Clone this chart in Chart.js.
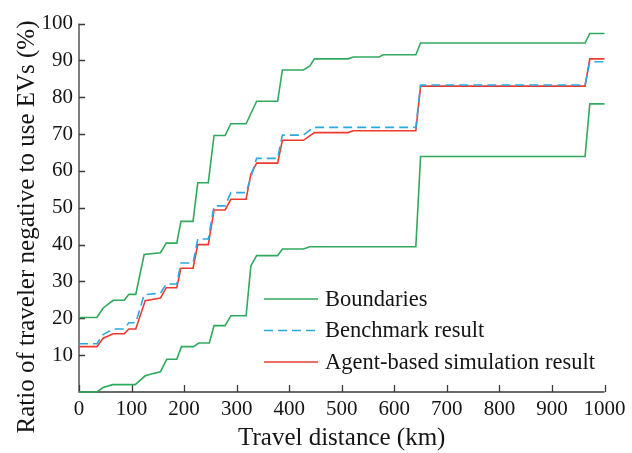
<!DOCTYPE html>
<html>
<head>
<meta charset="utf-8">
<script src="https://cdn.jsdelivr.net/npm/chart.js@4/dist/chart.umd.min.js"></script>
<style>
  html, body { margin: 0; padding: 0; background: #fff; }
  #wrap { width: 632px; height: 453px; position: relative; }
</style>
</head>
<body>
<div id="wrap"><canvas id="c" width="632" height="453"></canvas></div>
<script>
// ---- Data ----
const xTicks = [0, 100, 200, 300, 400, 500, 600, 700, 800, 900, 1000];
const yTicks = [10, 20, 30, 40, 50, 60, 70, 80, 90, 100];

const upperDist = [0, 34, 46, 65, 86, 95, 108, 124, 155, 166, 186, 194, 217, 226, 246, 257, 278, 289, 318, 338, 378, 387, 427, 439, 448, 512, 522, 571, 579, 641, 650, 963, 972, 1000];
const upperVal  = [20.2, 20.2, 22.8, 24.9, 24.9, 26.5, 26.5, 37.3, 37.8, 40.4, 40.4, 46.3, 46.3, 56.8, 56.8, 69.6, 69.6, 72.8, 72.8, 78.9, 78.9, 87.4, 87.4, 88.4, 90.4, 90.4, 90.9, 90.9, 91.5, 91.5, 94.7, 94.7, 97.3, 97.3];

const lowerDist = [0, 34, 46, 64, 107, 126, 138, 155, 167, 186, 195, 218, 228, 248, 257, 278, 289, 318, 327, 338, 378, 387, 427, 439, 641, 650, 963, 972, 1000];
const lowerVal  = [0, 0, 1.2, 2, 2, 4.4, 4.9, 5.5, 8.9, 8.9, 12.3, 12.3, 13.3, 13.3, 18, 18, 20.7, 20.7, 34.2, 37, 37, 38.8, 38.8, 39.4, 39.4, 63.9, 63.9, 78.2, 78.2];

const benchDist = [0, 34, 46, 65, 86, 95, 108, 124, 155, 166, 186, 194, 217, 226, 246, 257, 278, 289, 318, 338, 378, 387, 427, 446, 641, 650, 963, 972, 1000];
const benchVal  = [13.1, 13.1, 15.6, 17.1, 17.1, 18.8, 18.8, 26.4, 26.8, 29.3, 29.3, 35.0, 35.0, 41.5, 41.5, 50.5, 50.5, 54.1, 54.1, 63.4, 63.4, 69.7, 69.7, 71.8, 71.8, 83.3, 83.3, 89.6, 89.6];

const agentDist = [0, 34, 46, 65, 86, 95, 108, 126, 155, 166, 186, 194, 217, 226, 246, 257, 278, 289, 318, 327, 338, 378, 387, 427, 448, 512, 522, 641, 650, 963, 972, 1000];
const agentVal  = [12.3, 12.3, 14.6, 15.8, 15.8, 17.1, 17.1, 24.8, 25.5, 28.3, 28.3, 33.6, 33.6, 40.0, 40.0, 49.4, 49.4, 52.3, 52.3, 59.1, 62.1, 62.1, 68.3, 68.3, 70.4, 70.4, 70.9, 70.9, 83.0, 83.0, 90.4, 90.4];

const legendLabels = ['Boundaries', 'Benchmark result', 'Agent-based simulation result'];
const xTitle = 'Travel distance (km)';
const yTitle = 'Ratio of traveler negative to use EVs (%)';

// ---- Styles ----
const GREEN = '#2fa95c';
const BLUE = '#2aa9e0';
const RED = '#ec3b2e';
const AXIS = '#3a3a3a';
const TEXT = '#151515';
const FONT = "'Liberation Serif', 'Times New Roman', serif";

const pts = (xs, ys) => xs.map((x, i) => ({ x: x, y: ys[i] }));

const axesAndLegend = {
  id: 'axesAndLegend',
  beforeDatasetsDraw(chart) {
    const { ctx, chartArea: a, scales } = chart;
    ctx.save();
    ctx.strokeStyle = AXIS;
    ctx.lineWidth = 1.3;
    ctx.beginPath();
    ctx.moveTo(a.left, a.top);
    ctx.lineTo(a.left, a.bottom);
    ctx.lineTo(a.right, a.bottom);
    xTicks.forEach(v => {
      const px = Math.round(scales.x.getPixelForValue(v)) + 0.5;
      ctx.moveTo(px, a.bottom);
      ctx.lineTo(px, a.bottom - 7);
    });
    yTicks.forEach(v => {
      const py = Math.round(scales.y.getPixelForValue(v)) + 0.5;
      ctx.moveTo(a.left, py);
      ctx.lineTo(a.left + 6, py);
    });
    ctx.stroke();

    // y title
    ctx.fillStyle = TEXT;
    ctx.font = "25px " + FONT;
    ctx.textAlign = 'center';
    ctx.textBaseline = 'middle';
    ctx.translate(27, 227);
    ctx.rotate(-Math.PI / 2);
    ctx.fillText(yTitle, 0, 0);
    ctx.restore();
  },
  afterDraw(chart) {
    const { ctx, chartArea: a } = chart;
    ctx.save();
    const items = [
      { c: GREEN, dash: [] },
      { c: BLUE, dash: [9, 5] },
      { c: RED, dash: [] }
    ];
    const lx0 = a.left + 185, lx1 = a.left + 239, tx = a.left + 246;
    const ys = [a.top + 275.5, a.top + 307, a.top + 338.5];
    ctx.font = "22.5px " + FONT;
    ctx.textBaseline = 'middle';
    ctx.textAlign = 'left';
    ctx.fillStyle = TEXT;
    items.forEach((it, i) => {
      ctx.beginPath();
      ctx.setLineDash(it.dash);
      ctx.strokeStyle = it.c;
      ctx.lineWidth = 1.5;
      ctx.moveTo(lx0, ys[i]);
      ctx.lineTo(lx1, ys[i]);
      ctx.stroke();
      ctx.setLineDash([]);
      ctx.fillText(legendLabels[i], tx, ys[i] + 1);
    });
    ctx.restore();
  }
};

const common = { fill: false, pointRadius: 0, tension: 0, borderWidth: 1.6 };

new Chart(document.getElementById('c'), {
  type: 'line',
  data: {
    datasets: [
      Object.assign({ label: 'Boundaries', data: pts(upperDist, upperVal), borderColor: GREEN }, common),
      Object.assign({ label: 'Boundaries (lower)', data: pts(lowerDist, lowerVal), borderColor: GREEN }, common),
      Object.assign({ label: 'Benchmark result', data: pts(benchDist, benchVal), borderColor: BLUE, borderDash: [9, 5] }, common),
      Object.assign({ label: 'Agent-based simulation result', data: pts(agentDist, agentVal), borderColor: RED }, common)
    ]
  },
  options: {
    responsive: false,
    animation: false,
    devicePixelRatio: 1,
    clip: 4,
    layout: { padding: { top: 23.5, right: 27.5, left: 0, bottom: 0 } },
    plugins: { legend: { display: false }, tooltip: { enabled: false } },
    scales: {
      x: {
        type: 'linear', min: 0, max: 1000,
        afterBuildTicks: s => { s.ticks = xTicks.map(v => ({ value: v })); },
        afterFit: s => { s.height = 61; },
        grid: { display: false, drawTicks: false },
        border: { display: false },
        ticks: { color: TEXT, font: { family: FONT, size: 21 }, padding: 5, maxRotation: 0, autoSkip: false, callback: v => String(v) },
        title: { display: true, text: xTitle, color: TEXT, font: { family: FONT, size: 25 }, padding: { top: -2, bottom: 0 } }
      },
      y: {
        type: 'linear', min: 0, max: 100,
        afterBuildTicks: s => { s.ticks = yTicks.map(v => ({ value: v })); },
        afterFit: s => { s.width = 79; },
        grid: { display: false, drawTicks: false },
        border: { display: false },
        ticks: { color: TEXT, font: { family: FONT, size: 21 }, padding: 6, autoSkip: false, callback: v => String(v) },
        title: { display: false }
      }
    }
  },
  plugins: [axesAndLegend]
});
</script>
</body>
</html>
